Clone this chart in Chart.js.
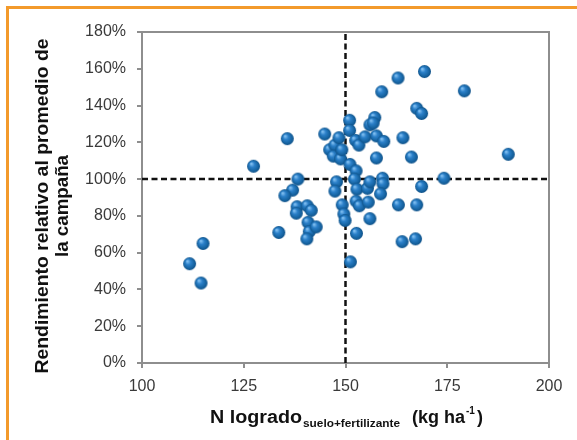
<!DOCTYPE html>
<html>
<head>
<meta charset="utf-8">
<script src="https://cdn.jsdelivr.net/npm/chart.js@4.4.1/dist/chart.umd.min.js"></script>
<style>
  html, body { margin: 0; padding: 0; background: #fff; }
</style>
</head>
<body>
<canvas id="chart" width="577" height="440"></canvas>
<script>
// N logrado (suelo + fertilizante), kg/ha
const nLogrado = [
  111.7, 115, 114.5, 127.4, 135.7, 133.6, 138.3, 137, 135.1, 138.1,
  137.9, 140.6, 141.6, 140.8, 141.1, 140.5, 142.8, 144.9, 146.1, 147.4,
  148.4, 147, 148.8, 147.8, 147.4, 149.2, 149.6, 149.9, 151, 151,
  152.5, 153.3, 151.1, 152.6, 152.2, 152.8, 152.6, 153.4, 152.7, 151.2,
  154.8, 156, 157.2, 156.8, 157.6, 159.4, 157.6, 155.4, 156, 159.1,
  159.2, 158.6, 155.6, 156, 158.9, 162.9, 164.1, 163, 163.9, 166.2,
  167.5, 168.7, 169.4, 168.7, 167.5, 167.2, 174.2, 179.2, 190, 149.1
];
// Rendimiento relativo al promedio de la campaña, %
const rendimiento = [
  54, 65, 43.5, 107, 122, 71, 100, 94, 91, 85,
  81.5, 85.5, 83, 76.5, 71.5, 67.5, 74, 124.5, 116, 118.5,
  122.5, 112.5, 111, 98.5, 93.5, 86, 81, 77.5, 132, 126.5,
  121, 118.5, 108, 104.5, 100, 94.5, 88, 85.5, 70.5, 55,
  123, 129.5, 133.5, 130.5, 123.5, 120.5, 111.5, 95, 98.5, 100.5,
  97.5, 92, 87.5, 78.5, 147.5, 155, 122.5, 86, 66, 112,
  138.5, 135.7, 158.5, 96, 86, 67.5, 100.5, 148, 113.5, 116
];

const xTicks = [100, 125, 150, 175, 200];
const yTicks = [0, 20, 40, 60, 80, 100, 120, 140, 160, 180];
const refN = 150;      // línea vertical
const refRend = 100;   // línea horizontal

const xMin = xTicks[0], xMax = xTicks[xTicks.length - 1];
const yMin = yTicks[0], yMax = yTicks[yTicks.length - 1];

// esfera azul como marcador
function makeBall(r) {
  const size = Math.ceil(r * 2) + 2;
  const c = document.createElement("canvas");
  c.width = size;
  c.height = size;
  const g = c.getContext("2d");
  const m = size / 2;
  const grad = g.createRadialGradient(m - r * 0.35, m - r * 0.4, r * 0.1, m, m, r);
  grad.addColorStop(0, "#7dbcef");
  grad.addColorStop(0.35, "#2b80c9");
  grad.addColorStop(0.8, "#15629f");
  grad.addColorStop(1, "#0e4f86");
  g.fillStyle = grad;
  g.beginPath();
  g.arc(m, m, r, 0, Math.PI * 2);
  g.fill();
  return c;
}
const ball = makeBall(6.5);

const grey = "#8e8e8e";
const tickFont = { family: "'Liberation Sans', Arial, sans-serif", size: 16 };

// texto ajustado a un ancho dado
function fitText(ctx, text, x, y, width, align) {
  const w = ctx.measureText(text).width;
  const k = width ? width / w : 1;
  ctx.save();
  ctx.translate(x, y);
  ctx.scale(k, 1);
  ctx.textAlign = align || "left";
  ctx.fillText(text, 0, 0);
  ctx.restore();
  return w * k;
}

const framePlugin = {
  id: "frame",
  beforeDraw(chart) {
    const ctx = chart.ctx;
    ctx.save();
    ctx.fillStyle = "#fff";
    ctx.fillRect(0, 0, chart.width, chart.height);
    ctx.strokeStyle = "#f39a2b";
    ctx.lineWidth = 3;
    ctx.beginPath();
    ctx.moveTo(7.5, chart.height);
    ctx.lineTo(7.5, 7.5);
    ctx.lineTo(chart.width, 7.5);
    ctx.stroke();
    ctx.restore();
  },
  beforeDatasetsDraw(chart) {
    const a = chart.chartArea;
    const ctx = chart.ctx;
    ctx.save();
    ctx.strokeStyle = grey;
    ctx.lineWidth = 2;
    ctx.strokeRect(a.left, a.top, a.right - a.left, a.bottom - a.top);
    ctx.restore();
  },
  afterDraw(chart) {
    const ctx = chart.ctx;
    ctx.save();
    ctx.fillStyle = "#111";
    ctx.textBaseline = "middle";

    // título eje Y (dos líneas, rotado)
    ctx.font = "bold 18px 'Liberation Sans', Arial, sans-serif";
    ctx.save();
    ctx.translate(43, 206);
    ctx.rotate(-Math.PI / 2);
    fitText(ctx, "Rendimiento relativo al promedio de", 0, 0, 335, "center");
    ctx.restore();
    ctx.save();
    ctx.translate(63, 206);
    ctx.rotate(-Math.PI / 2);
    fitText(ctx, "la campaña", 0, 0, 102, "center");
    ctx.restore();

    // título eje X con subíndice y superíndice
    ctx.textBaseline = "alphabetic";
    ctx.font = "bold 18px 'Liberation Sans', Arial, sans-serif";
    let x = 210;
    x += fitText(ctx, "N logrado", x, 423, 92);
    ctx.font = "bold 10px 'Liberation Sans', Arial, sans-serif";
    fitText(ctx, "suelo+fertilizante", x + 1, 427, 97);
    x = 412;
    ctx.font = "bold 18px 'Liberation Sans', Arial, sans-serif";
    x += fitText(ctx, "(kg ha", x, 423);
    ctx.font = "bold 10px 'Liberation Sans', Arial, sans-serif";
    x += fitText(ctx, "-1", x + 1, 414) + 3;
    ctx.font = "bold 18px 'Liberation Sans', Arial, sans-serif";
    fitText(ctx, ")", x, 423);
    ctx.restore();
  }
};

new Chart(document.getElementById("chart"), {
  type: "scatter",
  data: {
    datasets: [
      {
        data: nLogrado.map((n, i) => ({ x: n, y: rendimiento[i] })),
        pointStyle: ball,
        order: 1
      },
      {
        type: "line",
        data: [{ x: refN, y: yMin }, { x: refN, y: yMax }],
        borderColor: "#111",
        borderWidth: 2.5,
        borderDash: [6, 3.5],
        pointRadius: 0,
        order: 2
      },
      {
        type: "line",
        data: [{ x: xMin, y: refRend }, { x: xMax, y: refRend }],
        borderColor: "#111",
        borderWidth: 2.5,
        borderDash: [6, 3.5],
        pointRadius: 0,
        order: 2
      }
    ]
  },
  options: {
    responsive: false,
    animation: false,
    layout: { padding: { top: 32, right: 28, left: 0, bottom: 0 } },
    plugins: { legend: { display: false }, tooltip: { enabled: false } },
    scales: {
      x: {
        type: "linear",
        min: xMin,
        max: xMax,
        afterBuildTicks: s => { s.ticks = xTicks.map(v => ({ value: v })); },
        afterFit: s => { s.height = 77; },
        border: { display: false },
        grid: { drawOnChartArea: false, drawTicks: true, tickLength: 5, color: grey, lineWidth: 2 },
        ticks: { font: tickFont, color: "#3a3a3a", padding: 9, maxRotation: 0 }
      },
      y: {
        type: "linear",
        min: yMin,
        max: yMax,
        afterBuildTicks: s => { s.ticks = yTicks.map(v => ({ value: v })); },
        afterFit: s => { s.width = 142; },
        border: { display: false },
        grid: { drawOnChartArea: false, drawTicks: true, tickLength: 5, color: grey, lineWidth: 2 },
        ticks: { font: tickFont, color: "#3a3a3a", padding: 11, callback: v => v + "%" }
      }
    }
  },
  plugins: [framePlugin]
});
</script>
</body>
</html>
